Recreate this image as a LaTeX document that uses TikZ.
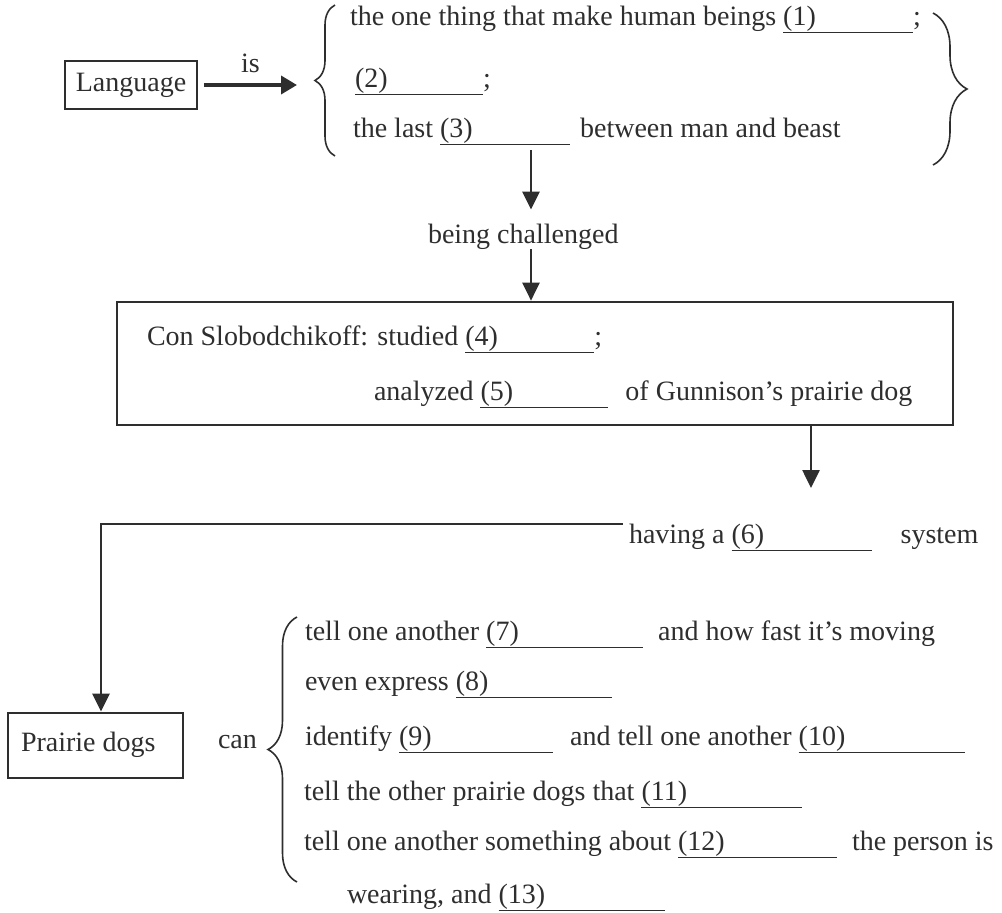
\documentclass[tikz,border=0pt]{standalone}
\usepackage{fontspec}
\setmainfont{Liberation Serif}
\usetikzlibrary{arrows.meta,decorations.pathreplacing}
\definecolor{ink}{HTML}{2E2E2E}
\tikzset{
  txt/.style = {anchor=base west, inner sep=0pt, outer sep=0pt, text=ink,
                font=\fontsize{28pt}{34pt}\selectfont},
  boxnode/.style = {draw=ink, line width=2pt, text=ink,
                    font=\fontsize{28pt}{34pt}\selectfont},
  arr/.style = {draw=ink, line width=2.6pt, -{Triangle[length=18pt, width=17pt]}},
  bigarr/.style = {draw=ink, line width=3.6pt, -{Triangle[length=16pt, width=18pt]}},
  brc/.style = {draw=ink, line width=1.6pt, decorate,
                decoration={brace, amplitude=#1}}
}
\newcommand{\blank}[2]{\underline{\makebox[#2pt][l]{#1}}}

\begin{document}
\begin{tikzpicture}[x=1pt, y=-1pt]
	\useasboundingbox (0,0) rectangle (1002,913);
	
	% Language is ...
	\node[boxnode, minimum width=132pt, minimum height=48pt, inner sep=0pt] (lang) at (131,85) {Language};
	\coordinate (b1) at (315,84);
	\draw[bigarr, shorten <=6pt, shorten >=18pt] (lang.east) -- (lang.east -| b1);
	\node[txt] (is) at (241,72) {is};
	\draw[brc=20] (335,156) -- (335,5);
	\node[txt] (t1) at (350,25) {the one thing that make human beings \blank{(1)}{130};};
	\node[txt] (t2) at (355,87) {\blank{(2)}{128};};
	\node[txt] (t3) at (353,137) {the last \blank{(3)}{130}\hspace{10pt}between man and beast};
	\draw[brc=34] (933,13) -- (933,165);
	
	% being challenged
	\coordinate (a1) at (531,150);
	\node[txt] (chal) at (428,243) {being challenged};
	\node[boxnode, line width=2.7pt, minimum width=836pt, minimum height=123pt, inner sep=0pt] (con) at (535,363.5) {};
	\draw[arr] (a1) -- ([yshift=14pt]chal.north -| a1);
	\draw[arr] (a1 |- chal.south) -- (a1 |- con.north);
	\node[txt] (c1) at (147,345) {Con Slobodchikoff: studied \blank{(4)}{129};};
	\node[txt] (c2) at (374,400) {analyzed \blank{(5)}{128}\hspace{17pt}of Gunnison’s prairie dog};
	
	% having a system
	\coordinate (a3) at (811,488);
	\draw[arr] (con.south -| a3) -- (a3);
	\node[txt] (have) at (629,543) {having a \blank{(6)}{140}\hspace{29pt}system};
	\coordinate (corner) at (101,524);
	
	% Prairie dogs can ...
	\node[boxnode, minimum height=65pt, inner xsep=13pt, inner ysep=0pt, anchor=west] (pd) at (7,745) {Prairie dogs\kern14.5pt};
	\draw[arr, line width=2.8pt] ([xshift=-6pt]corner -| have.west) -- (corner) -- (corner |- pd.north);
	\node[txt] (can) at (218,748) {can};
	\draw[brc=29] (297,882) -- (297,617);
	\node[txt] (p7) at (305,640) {tell one another \blank{(7)}{157}\hspace{15pt}and how fast it’s moving};
	\node[txt] (p8) at (305,690) {even express \blank{(8)}{156}};
	\node[txt] (p9) at (305,745) {identify \blank{(9)}{154}\hspace{17pt}and tell one another \blank{(10)}{166}};
	\node[txt] (p11) at (304,800) {tell the other prairie dogs that \blank{(11)}{161}};
	\node[txt] (p12) at (304,850) {tell one another something about \blank{(12)}{159}\hspace{15pt}the person is};
	\node[txt] (p13) at (347,903) {wearing, and \blank{(13)}{166}};
	
\end{tikzpicture}
\end{document}
